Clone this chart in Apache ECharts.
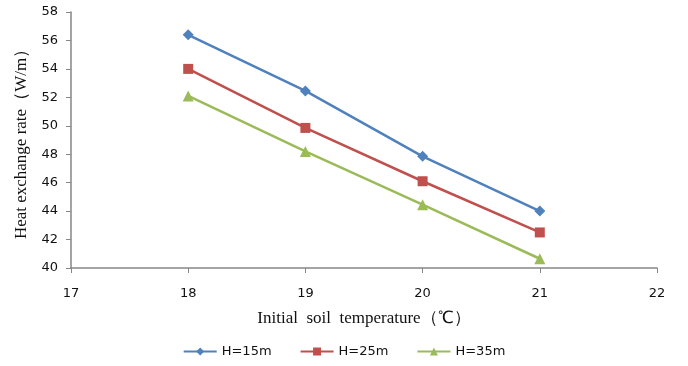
<!DOCTYPE html>
<html>
<head>
<meta charset="utf-8">
<script src="https://cdn.jsdelivr.net/npm/echarts@6/dist/echarts.min.js"></script>
<style>
  html, body { margin: 0; padding: 0; background: #fff; }
  #chart { width: 688px; height: 366px; }
</style>
</head>
<body>
<div id="chart"></div>
<script>
// Initial soil temperature (℃)
const temperatures = [18, 19, 20, 21];
// Heat exchange rate (W/m) for each borehole depth
const rateH15 = [56.4, 52.45, 47.85, 44.0];
const rateH25 = [54.0, 49.85, 46.1, 42.5];
const rateH35 = [52.1, 48.2, 44.45, 40.65];
const seriesNames = ['H=15m', 'H=25m', 'H=35m'];

const pairs = vals => temperatures.map((t, i) => [t, vals[i]]);

const axisColor = '#868686';
const tickFont = { fontFamily: 'DejaVu Sans', fontSize: 13, color: '#111' };
const titleFont = { fontFamily: 'Liberation Serif', fontSize: 17, color: '#111' };

const chart = echarts.init(document.getElementById('chart'), null, { renderer: 'canvas' });
chart.setOption({
  animation: false,
  backgroundColor: '#fff',
  grid: { left: 71, right: 31, top: 12, bottom: 98, containLabel: false },
  legend: {
    bottom: 3,
    left: 'center',
    itemWidth: 33,
    itemHeight: 10,
    itemGap: 28,
    textStyle: { fontFamily: 'DejaVu Sans', fontSize: 13, color: '#111' },
    data: seriesNames
  },
  xAxis: {
    type: 'value',
    min: 17, max: 22, interval: 1,
    name: 'Initial  soil  temperature（℃）',
    nameLocation: 'middle',
    nameGap: 42,
    nameTextStyle: titleFont,
    axisLine: { show: true, lineStyle: { color: axisColor, width: 1.5 } },
    axisTick: { show: true, length: 5, lineStyle: { color: axisColor } },
    axisLabel: Object.assign({ margin: 19 }, tickFont),
    splitLine: { show: false }
  },
  yAxis: {
    type: 'value',
    min: 40, max: 58, interval: 2,
    name: 'Heat exchange rate（W/m）',
    nameLocation: 'middle',
    nameGap: 41,
    nameTextStyle: titleFont,
    axisLine: { show: true, lineStyle: { color: axisColor, width: 1.5 } },
    axisTick: { show: true, length: 5, lineStyle: { color: axisColor } },
    axisLabel: Object.assign({ margin: 13 }, tickFont),
    splitLine: { show: false }
  },
  series: [
    {
      name: seriesNames[0], type: 'line', data: pairs(rateH15),
      symbol: 'diamond', symbolSize: 11,
      itemStyle: { color: '#4F81BD' }, lineStyle: { width: 2.5, color: '#4F81BD' }
    },
    {
      name: seriesNames[1], type: 'line', data: pairs(rateH25),
      symbol: 'rect', symbolSize: 10,
      itemStyle: { color: '#C0504D' }, lineStyle: { width: 2.5, color: '#C0504D' }
    },
    {
      name: seriesNames[2], type: 'line', data: pairs(rateH35),
      symbol: 'triangle', symbolSize: 11,
      itemStyle: { color: '#9BBB59' }, lineStyle: { width: 2.5, color: '#9BBB59' }
    }
  ]
});
</script>
</body>
</html>
